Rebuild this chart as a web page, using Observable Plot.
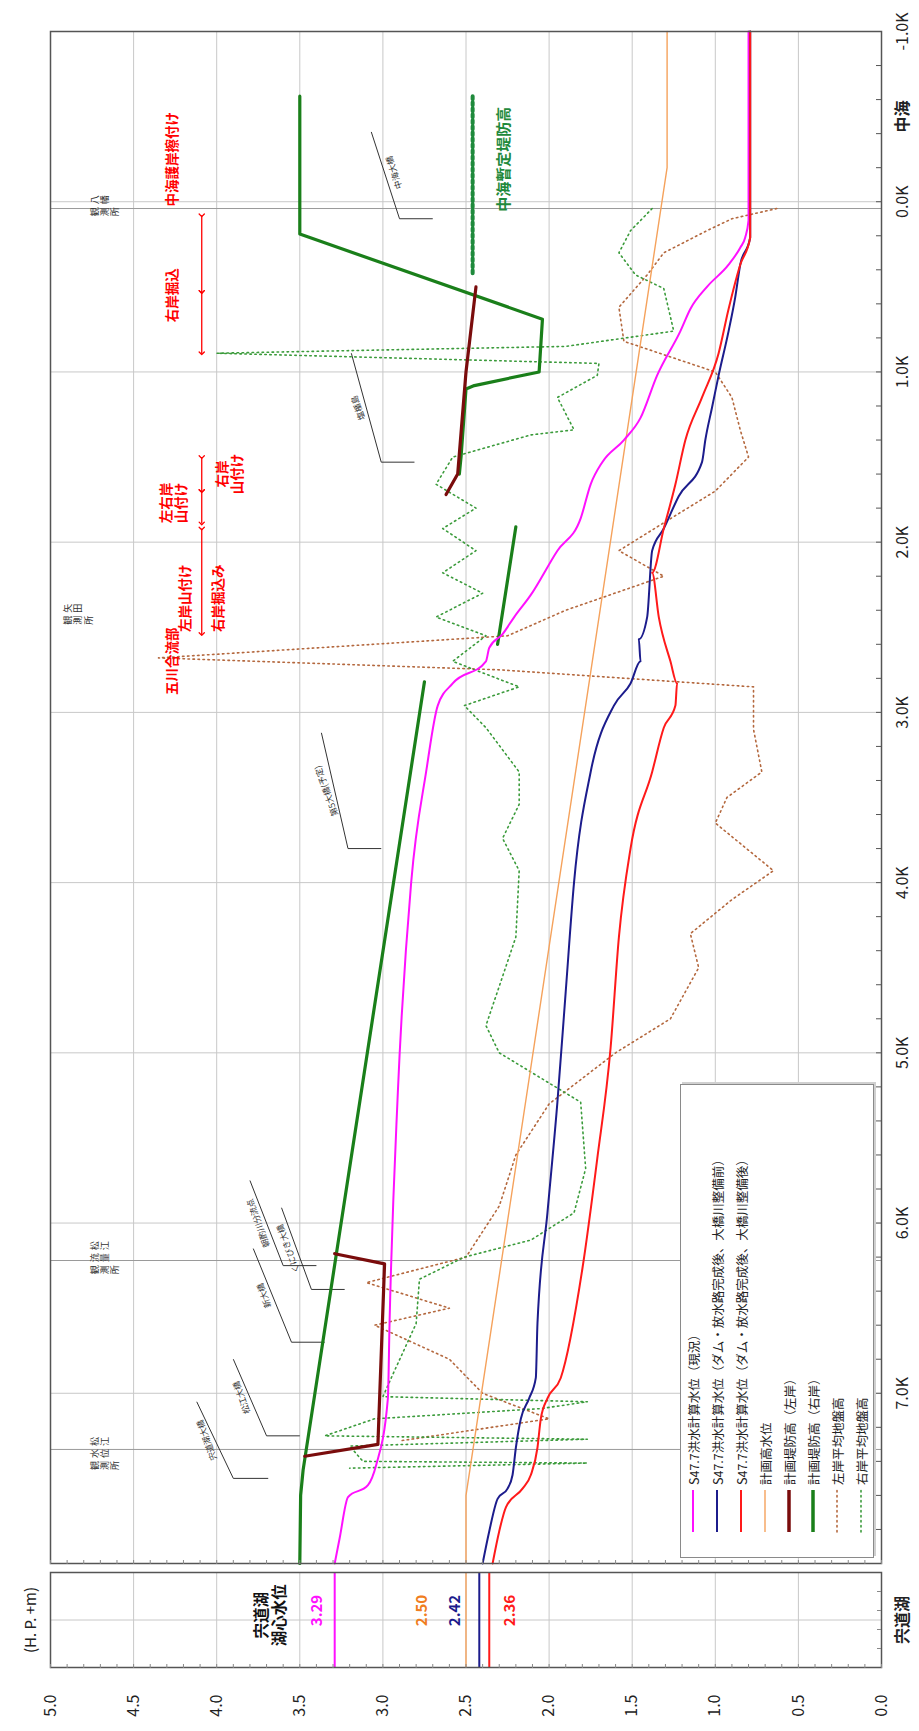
<!DOCTYPE html>
<html><head><meta charset="utf-8">
<script src="https://cdn.jsdelivr.net/npm/d3@7"></script>
<script src="https://cdn.jsdelivr.net/npm/@observablehq/plot@0.6"></script>
<style>
html,body{margin:0;padding:0;background:#fff;}
body{width:919px;height:1731px;position:relative;overflow:hidden;}
#rot{position:absolute;left:0;top:0;width:1731px;height:919px;transform-origin:0 0;transform:translate(0px,1731px) rotate(-90deg);}
#rot > div.plot{position:absolute;left:0;top:0;}
#rot > #legend{position:absolute;left:173px;top:680px;width:472px;height:192px;border:1px solid #8a8a8a;background:#fff;box-shadow:2px 2px 0 #d0d0d0;font-family:'Noto Sans CJK JP',sans-serif;font-size:12.5px;color:#222;}
#legend .row{position:absolute;left:0;height:24px;display:flex;align-items:center;white-space:nowrap;}
#legend svg{margin-left:24px;margin-right:4px;}
</style></head><body><div id="rot"><div id="lake" class="plot"></div><div id="main" class="plot"></div><div id="legend"></div></div>
<script>
const FONT = "'Noto Sans CJK JP','Noto Sans',sans-serif";
// ---- axes ----
const K_MAJOR = [-1,0,1,2,3,4,5,6,7];
const K_LABELS = ["-1.0K","0.0K","1.0K","2.0K","3.0K","4.0K","5.0K","6.0K","7.0K"];
const K_MINOR = d3.range(-10, 81, 2).map(d => d / 10);
const V_MAJOR = [0,0.5,1,1.5,2,2.5,3,3.5,4,4.5,5];
const V_LABELS = ["0.0","0.5","1.0","1.5","2.0","2.5","3.0","3.5","4.0","4.5","5.0"];
const V_MINOR = d3.range(0, 51).map(d => d / 10);

// ---- lake (宍道湖) levels ----
const LAKE_VALUES = [3.29, 2.50, 2.42, 2.36];
const LAKE_TEXT = ["3.29","2.50","2.42","2.36"];

// ---- series (distance K, level H.P.+m) ----
const magK = [8.0,7.85,7.61,7.54,7.42,7.03,6.59,5.23,4.0,3.35,2.96,2.83,2.70,2.62,2.54,2.44,2.31,2.05,1.86,1.66,1.53,1.40,1.27,1.02,0.76,0.63,0.50,0.37,0.27,0.21,0.11,-1.0];
const magV = [3.29,3.26,3.21,3.09,3.04,2.97,2.96,2.91,2.83,2.74,2.67,2.58,2.38,2.36,2.28,2.21,2.11,1.95,1.81,1.75,1.68,1.55,1.45,1.35,1.21,1.15,1.05,0.92,0.85,0.82,0.80,0.80];
const navK = [8.0,7.81,7.62,7.56,7.48,7.32,7.15,7.03,6.91,6.59,5.94,5.29,4.64,4.00,3.35,2.96,2.83,2.70,2.57,2.44,2.05,1.92,1.73,1.53,1.40,1.21,1.02,0.76,0.56,0.37,0.21,0.11,-1.0];
const navV = [2.40,2.36,2.31,2.25,2.22,2.20,2.17,2.12,2.08,2.07,2.01,1.95,1.90,1.85,1.75,1.61,1.51,1.45,1.46,1.41,1.38,1.31,1.22,1.08,1.06,1.02,0.98,0.92,0.88,0.85,0.79,0.79,0.79];
const redK = [8.0,7.81,7.67,7.56,7.48,7.32,7.15,7.03,6.91,6.27,5.62,4.97,4.32,3.80,3.35,3.09,2.96,2.83,2.70,2.44,2.18,1.92,1.66,1.40,1.15,0.89,0.63,0.37,0.21,0.11,-1.0];
const redV = [2.34,2.30,2.26,2.16,2.11,2.07,2.05,2.01,1.93,1.80,1.71,1.63,1.58,1.51,1.38,1.31,1.24,1.23,1.27,1.34,1.38,1.31,1.24,1.18,1.08,0.98,0.92,0.85,0.79,0.79,0.79];
const hwlK = [8.0,7.6,-0.2,-1.0];
const hwlV = [2.50,2.50,1.29,1.29];
// 計画堤防高（右岸）: separate stretches
const rdSeg = [0,0,0,0, 1,1, 2,2,2,2,2,2,2,2];
const rdK = [8.0,7.6,7.45,2.82, 2.6,1.91, -0.62,0.19,0.69,1.0,1.08,1.1,1.5,1.6];
const rdV = [3.50,3.495,3.48,2.75, 2.31,2.20, 3.50,3.50,2.04,2.06,2.45,2.50,2.53,2.54];
// 計画堤防高（左岸）
const ldSeg = [0,0,0,0, 1,1,1,1];
const ldK = [7.37,7.30,6.24,6.18, 0.5,1.0,1.6,1.72];
const ldV = [3.47,3.03,2.99,3.29, 2.44,2.50,2.55,2.62];
// 左岸平均地盤高
const lgK = [0.04,0.1,0.17,0.30,0.43,0.62,0.82,1.0,1.15,1.34,1.5,1.7,1.88,2.05,2.2,2.4,2.55,2.68,2.75,2.85,3.1,3.35,3.5,3.65,3.93,4.1,4.3,4.5,4.8,5.0,5.3,5.6,5.9,6.2,6.35,6.5,6.6,6.8,7.0,7.15,7.28];
const lgV = [0.63,0.9,1.05,1.31,1.41,1.58,1.55,1.0,0.9,0.85,0.8,1.0,1.3,1.58,1.31,1.9,2.25,4.35,2.3,0.77,0.77,0.72,0.93,1.0,0.65,0.9,1.15,1.1,1.27,1.6,2.0,2.2,2.3,2.5,3.1,2.6,3.05,2.6,2.4,2.0,2.9];
// 右岸平均地盤高
const rgK = [0.04,0.17,0.30,0.43,0.51,0.76,0.85,0.89,0.95,1.02,1.15,1.34,1.37,1.50,1.66,1.8,1.92,2.05,2.18,2.3,2.44,2.55,2.70,2.85,2.96,3.09,3.35,3.54,3.74,3.93,4.32,4.84,5.0,5.29,5.68,5.94,6.1,6.20,6.33,6.59,6.91,7.02,7.05,7.09,7.15,7.25,7.27,7.31,7.40,7.41,7.44];
const rgV = [1.38,1.51,1.58,1.48,1.31,1.25,1.9,4.0,1.7,1.71,1.95,1.85,2.11,2.58,2.68,2.44,2.64,2.44,2.64,2.4,2.68,2.38,2.58,2.18,2.51,2.38,2.18,2.18,2.28,2.18,2.2,2.38,2.3,1.81,1.78,1.85,2.11,2.51,2.78,2.8,2.95,3.0,1.77,2.05,3.05,3.35,1.77,3.2,3.12,1.77,3.2];
// 中海暫定堤防高
const nkK = [-0.62, 0.43];
const nkV = [2.46, 2.46];

// ---- annotations ----
const STATION_K = [0.04, 6.22, 7.33];
const stationCols = [
  {k: 0.00, v: 4.76, cols: ["八\n幡", "観\n測\n所"]},
  {k: 2.40, v: 4.92, cols: ["矢\n田", "観\n測\n所"]},
  {k: 6.18, v: 4.76, cols: ["松\n江", "流\n量", "観\n測\n所"]},
  {k: 7.33, v: 4.76, cols: ["松\n江", "水\n位", "観\n測\n所"]}
];
const BRIDGES = ["中海大橋","塩楯島","第5大橋(予定)","くにびき大橋","朝酌川分流点","新大橋","松江大橋","宍道湖大橋"];
const brK    = [0.10, 1.53, 3.80, 6.39, 6.25, 6.70, 7.25, 7.50];
const brV1   = [2.70, 2.81, 3.01, 3.23, 3.40, 3.35, 3.50, 3.69];
const brV2   = [2.90, 3.01, 3.21, 3.43, 3.60, 3.55, 3.70, 3.90];
const brKEnd = [-0.41, 0.89, 3.12, 5.91, 5.75, 6.15, 6.80, 7.05];
const brVEnd = [3.07, 3.19, 3.37, 3.61, 3.80, 3.78, 3.90, 4.12];
const RED_K1 = [0.08, 0.53, 1.50, 1.70, 1.92];
const RED_K2 = [0.53, 0.89, 1.70, 1.89, 2.54];
const RED_V = 4.09;
const redLabels = [
  {k: -0.25, v: 4.27, t: "中海護岸擦付け"},
  {k: 0.55, v: 4.27, t: "右岸掘込"},
  {k: 1.77, v: 4.26, t: "左右岸\n山付け"},
  {k: 1.60, v: 3.92, t: "右岸\n山付け"},
  {k: 2.33, v: 4.19, t: "左岸山付け"},
  {k: 2.33, v: 3.99, t: "右岸掘込み"},
  {k: 2.70, v: 4.27, t: "五川合流部"}
];

const C = {mag:"#ff10ff", nav:"#1c1c8c", red:"#ff1a1a", hwl:"#f5a25c", ld:"#7a0c0c", rd:"#1a7f1a", lg:"#b4683e", rg:"#3b9b3b", nk:"#1f8a3c"};
const zip = (ks, vs, extra) => ks.map((k, i) => ({k, v: vs[i], s: extra ? extra[i] : 0}));
const brIdx = BRIDGES.map((b, i) => i);

const main = Plot.plot({
  width: 1731, height: 919,
  marginLeft: 167, marginRight: 32, marginTop: 50, marginBottom: 38,
  x: {domain: [8, -1], axis: null},
  y: {domain: [0, 5], axis: null},
  style: {background: "none", fontFamily: FONT, color: "#222"},
  marks: [
    Plot.gridX(K_MAJOR, {stroke: "#c8c8c8", strokeOpacity: 1, strokeWidth: 1}),
    Plot.gridY(V_MAJOR, {stroke: "#c8c8c8", strokeOpacity: 1, strokeWidth: 1}),
    Plot.ruleX(STATION_K, {stroke: "#9a9a9a", strokeWidth: 1}),
    // station names (vertical Japanese text, columns right to left)
    ...stationCols.flatMap(s => s.cols.map((c, j) => Plot.text([s], {x: "k", y: "v", text: () => c, dx: -(j - (s.cols.length - 1) / 2) * 12 - 4, lineAnchor: "top", lineHeight: 1.15, fontSize: 9, fill: "#333"}))),
    // bridge leader lines
    Plot.link(brIdx, {x1: i => brK[i], y1: i => brV1[i], x2: i => brK[i], y2: i => brV2[i], stroke: "#333", strokeWidth: 1}),
    Plot.link(brIdx, {x1: i => brK[i], y1: i => brV2[i], x2: i => brKEnd[i], y2: i => brVEnd[i], stroke: "#333", strokeWidth: 1}),
    Plot.text(brIdx.slice(0, 1), {x: i => (brK[i] + brKEnd[i]) / 2, y: i => (brV2[i] + brVEnd[i]) / 2, text: i => BRIDGES[i], rotate: -18, dy: 9, dx: 3, fontSize: 8.5, fill: "#333"}),
    Plot.text(brIdx.slice(1), {x: i => (brK[i] + brKEnd[i]) / 2, y: i => (brV2[i] + brVEnd[i]) / 2, text: i => BRIDGES[i], rotate: -20, dy: -8, dx: 0, fontSize: 8.5, fill: "#333"}),
    // ground heights
    Plot.line(zip(lgK, lgV), {x: "k", y: "v", stroke: C.lg, strokeWidth: 1.6, strokeDasharray: "1.5,3.5", strokeLinecap: "round"}),
    Plot.line(zip(rgK, rgV), {x: "k", y: "v", stroke: C.rg, strokeWidth: 1.6, strokeDasharray: "1.5,3.5", strokeLinecap: "round"}),
    // dikes
    Plot.line(zip(rdK, rdV, rdSeg), {x: "k", y: "v", z: "s", stroke: C.rd, strokeWidth: 3.2}),
    Plot.line(zip(ldK, ldV, ldSeg), {x: "k", y: "v", z: "s", stroke: C.ld, strokeWidth: 3.2}),
    Plot.line(zip(nkK, nkV), {x: "k", y: "v", stroke: C.nk, strokeWidth: 4, strokeDasharray: "3,3"}),
    // water levels
    Plot.line(zip(hwlK, hwlV), {x: "k", y: "v", stroke: C.hwl, strokeWidth: 1.4}),
    Plot.line(zip(magK, magV), {x: "k", y: "v", stroke: C.mag, strokeWidth: 2, curve: "monotone-y"}),
    Plot.line(zip(navK, navV), {x: "k", y: "v", stroke: C.nav, strokeWidth: 2, curve: "monotone-y"}),
    Plot.line(zip(redK, redV), {x: "k", y: "v", stroke: C.red, strokeWidth: 2, curve: "monotone-y"}),
    // red construction annotations
    Plot.link(RED_K1.map((d, i) => i), {x1: i => RED_K1[i], x2: i => RED_K2[i], y1: RED_V, y2: RED_V, stroke: "#ff0000", strokeWidth: 1.3, markerStart: "arrow", markerEnd: "arrow"}),
    Plot.text(redLabels, {x: "k", y: "v", text: "t", fill: "#ff0000", fontWeight: "bold", fontSize: 13.5, lineHeight: 1.12}),
    Plot.text(["中海暫定堤防高"], {x: -0.25, y: 2.27, text: d => d, fill: C.nk, fontWeight: "bold", fontSize: 15}),
    Plot.frame({stroke: "#555", strokeWidth: 1.5}),
    Plot.axisX(K_MINOR, {anchor: "bottom", tickSize: -5, text: null, label: null, stroke: "#555"}),
    Plot.axisY(V_MINOR, {anchor: "left", tickSize: -4, text: null, label: null, stroke: "#888"}),
    Plot.text(K_MAJOR, {x: d => d, text: (d, i) => K_LABELS[i], frameAnchor: "bottom", dy: 26, fontSize: 16, fill: "#222"}),
    Plot.text(["中海"], {x: -0.5, text: d => d, frameAnchor: "bottom", dy: 26, fontSize: 16, fontWeight: "bold", fill: "#222"})
  ]
});
document.getElementById("main").appendChild(main);

const lakeColors = [C.mag, "#f07d20", C.nav, C.red];
const lakeStroke = [C.mag, C.hwl, C.nav, C.red];
const lakeWidth = [2, 1.4, 2, 2];
const lakeDy = [-18, -44, -24, 21];
const lake = Plot.plot({
  width: 165, height: 919,
  marginLeft: 63, marginRight: 7, marginTop: 50, marginBottom: 38,
  x: {domain: [0, 1], axis: null},
  y: {domain: [0, 5], axis: null},
  style: {background: "none", fontFamily: FONT, color: "#222"},
  marks: [
    Plot.gridY(V_MAJOR, {stroke: "#c8c8c8", strokeOpacity: 1}),
    Plot.ruleX([0.5], {stroke: "#c8c8c8"}),
    ...LAKE_VALUES.map((v, i) => Plot.ruleY([v], {stroke: lakeStroke[i], strokeWidth: lakeWidth[i]})),
    ...LAKE_VALUES.map((v, i) => Plot.text([LAKE_TEXT[i]], {x: 0.6, y: v, text: d => d, fill: lakeColors[i], dy: lakeDy[i], fontWeight: "bold", fontSize: 15})),
    Plot.text(["宍道湖\n湖心水位"], {x: 0.55, y: 3.68, text: d => d, fontWeight: "bold", fontSize: 15.5, lineHeight: 1.15, fill: "#111"}),
    Plot.frame({stroke: "#555", strokeWidth: 1.5}),
    Plot.axisY(V_MINOR, {anchor: "left", tickSize: -4, text: null, label: null, stroke: "#888"}),
    Plot.axisX([0.2, 0.4, 0.6, 0.8], {anchor: "bottom", tickSize: -4, text: null, label: null, stroke: "#888"}),
    Plot.text(V_MAJOR, {y: d => d, text: (d, i) => V_LABELS[i], frameAnchor: "left", dx: -27, textAnchor: "end", fontSize: 16, fill: "#222"}),
    Plot.text(["(H. P. +m)"], {x: 0.5, text: d => d, frameAnchor: "top", dy: -25, fontSize: 15, fill: "#222"}),
    Plot.text(["宍道湖"], {x: 0.5, text: d => d, frameAnchor: "bottom", dy: 26, fontSize: 16, fontWeight: "bold", fill: "#222"})
  ]
});
document.getElementById("lake").appendChild(lake);

// ---- legend ----
const LEG_TEXT = ["S47.7洪水計算水位（現況）","S47.7洪水計算水位（ダム・放水路完成後、大橋川整備前）","S47.7洪水計算水位（ダム・放水路完成後、大橋川整備後）","計画高水位","計画堤防高（左岸）","計画堤防高（右岸）","左岸平均地盤高","右岸平均地盤高"];
const legStyle = [[C.mag,2,null],[C.nav,2,null],[C.red,2,null],[C.hwl,1.4,null],[C.ld,3.5,null],[C.rd,3.5,null],[C.lg,1.6,"1.5,3.5"],[C.rg,1.6,"1.5,3.5"]];
const leg = document.getElementById("legend");
LEG_TEXT.forEach((t, i) => {
  const row = document.createElement("div");
  row.className = "row";
  row.style.top = (i * 24) + "px";
  const [c, w, da] = legStyle[i];
  row.innerHTML = `<svg width="44" height="10"><line x1="1" y1="5" x2="43" y2="5" stroke="${c}" stroke-width="${w}" ${da ? `stroke-dasharray="${da}" stroke-linecap="round"` : ""}/></svg><span>${t}</span>`;
  leg.appendChild(row);
});
</script>
</body></html>
